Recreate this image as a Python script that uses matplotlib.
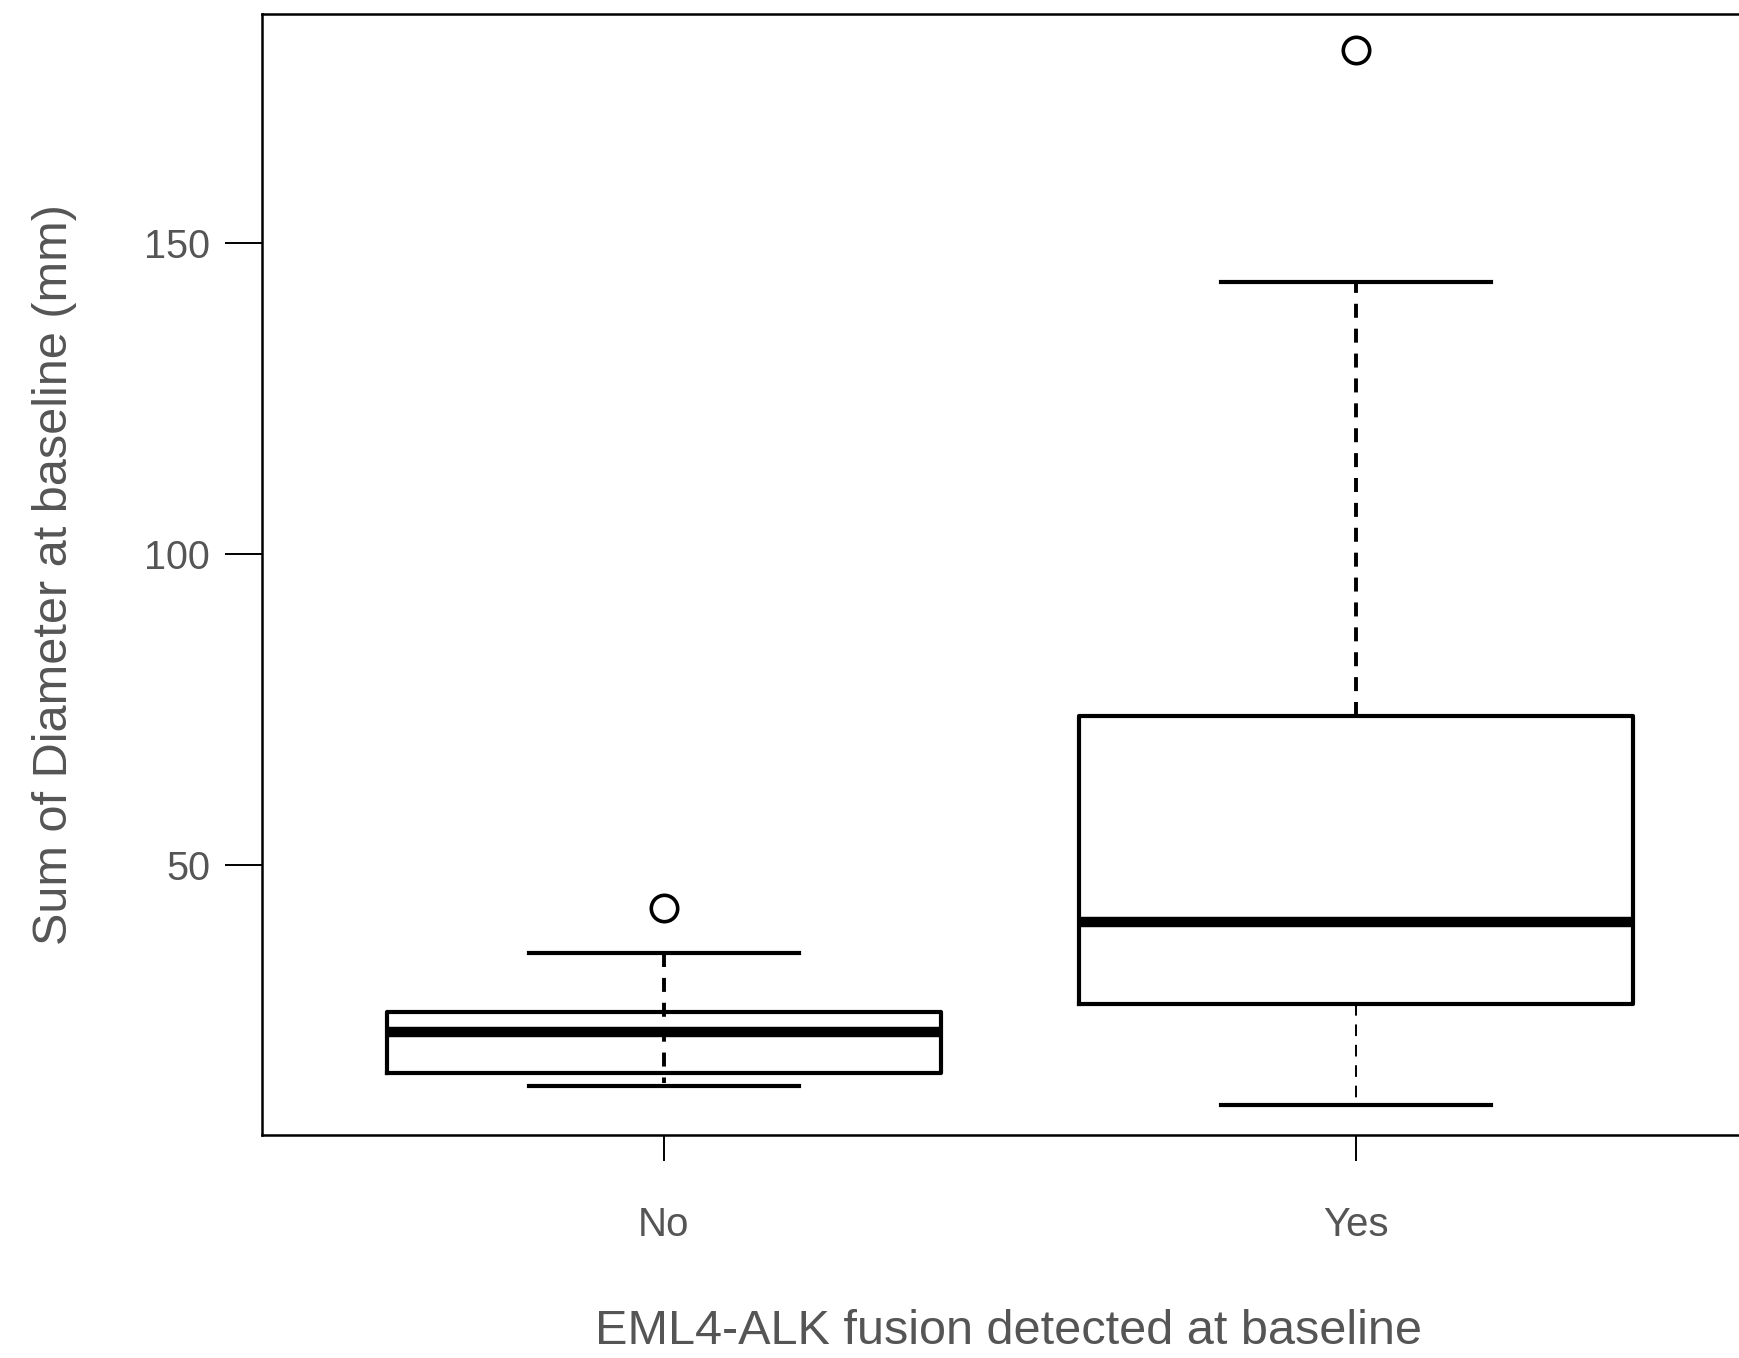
"""Boxplot of baseline tumour diameter sum by EML4-ALK fusion status."""

import matplotlib

matplotlib.use("Agg")
import matplotlib.pyplot as plt

# ---------------------------------------------------------------------------
# Data
# ---------------------------------------------------------------------------
GROUPS = ["No", "Yes"]
WHISKER_LOW = [14.3, 11.3]
Q1 = [16.4, 27.5]
MEDIAN = [23.0, 40.7]
Q3 = [26.3, 73.9]
WHISKER_HIGH = [35.7, 143.7]
OUTLIERS = [[43.0], [181.1]]

YTICKS = [50, 100, 150]
XLABEL = "EML4-ALK fusion detected at baseline"
YLABEL = "Sum of Diameter at baseline (mm)"

TEXT = "#555555"
INK = "black"

plt.rcParams["font.family"] = ["Liberation Sans", "DejaVu Sans"]

fig = plt.figure(figsize=(17.4, 13.58), dpi=100, facecolor="white")
ax = fig.add_axes([0.1506, 0.1641, 0.8494, 0.8253])

stats = []
for i, name in enumerate(GROUPS):
    stats.append(
        dict(
            label=name,
            whislo=WHISKER_LOW[i],
            q1=Q1[i],
            med=MEDIAN[i],
            q3=Q3[i],
            whishi=WHISKER_HIGH[i],
            fliers=OUTLIERS[i],
        )
    )

positions = list(range(1, len(GROUPS) + 1))
art = ax.bxp(
    stats,
    positions=positions,
    widths=0.8,
    showfliers=True,
    boxprops=dict(color=INK, linewidth=3.0),
    medianprops=dict(color=INK, linewidth=7.5, solid_capstyle="butt"),
    whiskerprops=dict(color=INK, linewidth=2.8, linestyle=(0, (3.6, 2.8))),
    capprops=dict(color=INK, linewidth=3.0),
    capwidths=0.39,
    flierprops=dict(
        marker="o",
        markersize=19,
        markerfacecolor="none",
        markeredgecolor=INK,
        markeredgewidth=2.6,
    ),
)

# whiskers come as [lo_0, hi_0, lo_1, hi_1]
w = art["whiskers"]
# "No": dashed line runs from the upper cap straight down through the box
w[1].set_ydata([WHISKER_HIGH[0], WHISKER_LOW[0] + 0.6])
w[0].set_visible(False)
# "Yes": lower whisker drawn thinner
w[2].set_linewidth(1.4)
w[2].set_linestyle((0, (6, 4.5)))
w[2].set_ydata([Q1[1], WHISKER_LOW[1] + 0.6])

ax.set_xlim(0.42, 2.554)
ax.set_ylim(6.45, 186.8)

ax.set_yticks(YTICKS)
ax.set_yticklabels([str(t) for t in YTICKS])
ax.set_xticks(positions)
ax.set_xticklabels(GROUPS)

ax.tick_params(axis="y", length=26.5, width=1.4, color=INK, pad=11,
               labelsize=28.5, labelcolor=TEXT)
ax.tick_params(axis="x", length=19, width=1.4, color=INK, pad=32,
               labelsize=29, labelcolor=TEXT)

for name, spine in ax.spines.items():
    spine.set_color(INK)
    spine.set_linewidth(1.8)
ax.spines["right"].set_visible(False)

ax.set_xlabel(XLABEL, fontsize=35, color=TEXT)
ax.set_ylabel(YLABEL, fontsize=35, color=TEXT)
ax.xaxis.set_label_coords(0.505, -0.155)
ax.yaxis.set_label_coords(-0.125, 0.5)

fig.savefig("out.png", dpi=100, facecolor="white")
